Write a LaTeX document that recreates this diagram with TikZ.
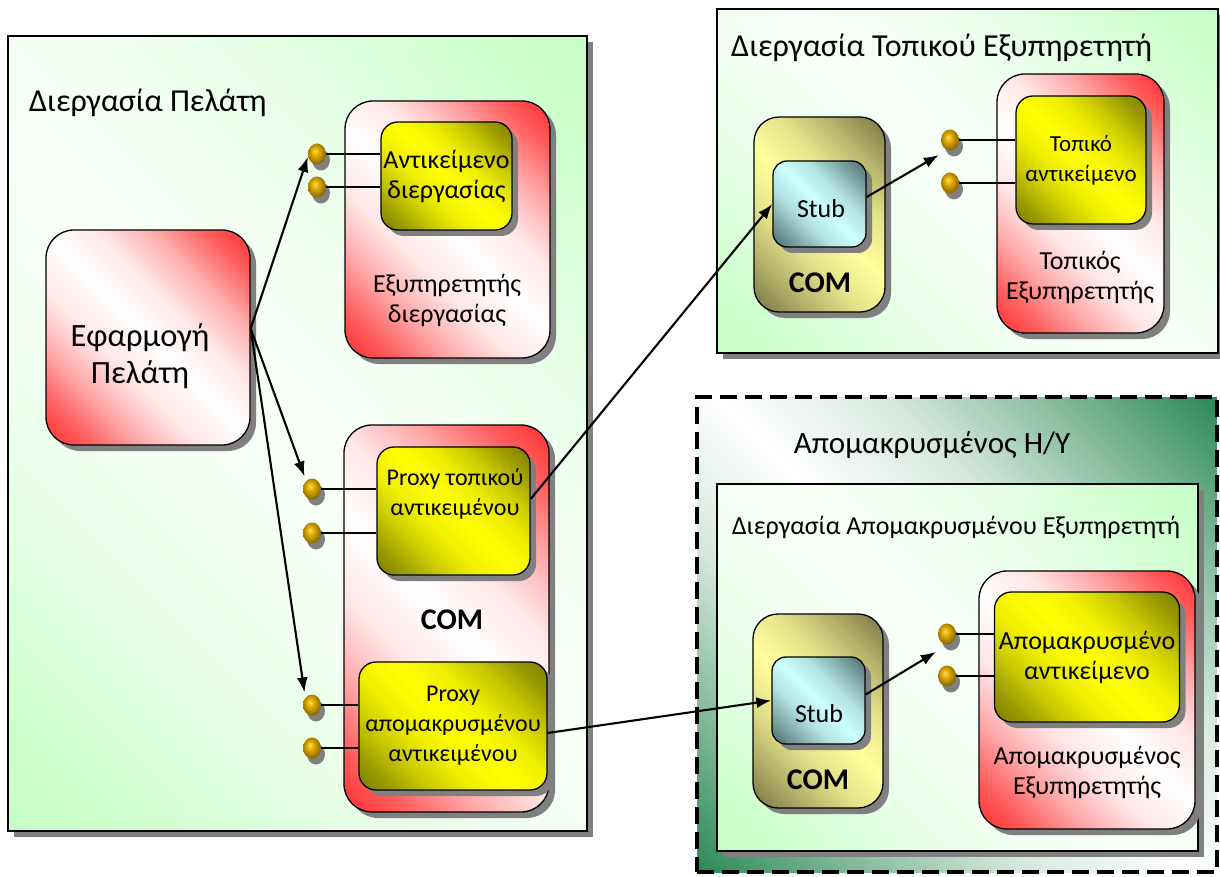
\documentclass[tikz,border=0pt]{standalone}
\usepackage{fontspec}
\setmainfont{Carlito}
\usetikzlibrary{shadows,shapes.geometric,arrows.meta,calc}

\definecolor{procgreen}{HTML}{C4FFC4}
\definecolor{procwhite}{HTML}{F8FFF8}
\definecolor{srvred}{HTML}{FF2A2A}
\definecolor{objolive}{HTML}{7A7A00}
\definecolor{objyellow}{HTML}{FFFF00}
\definecolor{compale}{HTML}{FFFF9C}
\definecolor{comdark}{HTML}{7A7545}
\definecolor{stublight}{HTML}{CCFFFF}
\definecolor{stubdark}{HTML}{4A6A6A}
\definecolor{hostgreen}{HTML}{2E8B57}
\definecolor{shadowgray}{HTML}{808080}
\definecolor{lollylight}{HTML}{FFDC50}
\definecolor{lollygold}{HTML}{DDA800}
\definecolor{lollydark}{HTML}{8A6800}

% diagonal band: corner colour in two opposite corners, middle colour on the centre line
\colorlet{diagA}{white}
\colorlet{diagB}{white}
\pgfdeclareverticalshading[diagA,diagB]{diagband}{100bp}{%
  color(0bp)=(diagA); color(14bp)=(diagA); color(22bp)=(diagA!76!diagB);
  color(31bp)=(diagA!40!diagB); color(40bp)=(diagA!12!diagB); color(50bp)=(diagB);
  color(60bp)=(diagA!12!diagB); color(69bp)=(diagA!40!diagB); color(78bp)=(diagA!76!diagB);
  color(86bp)=(diagA); color(100bp)=(diagA)}
% broader band for the small boxes
\pgfdeclareverticalshading[diagA,diagB]{diagwide}{100bp}{%
  color(0bp)=(diagA); color(15bp)=(diagA); color(26bp)=(diagA!60!diagB);
  color(38bp)=(diagA!20!diagB); color(50bp)=(diagB);
  color(62bp)=(diagA!20!diagB); color(74bp)=(diagA!60!diagB);
  color(85bp)=(diagA); color(100bp)=(diagA)}
\pgfdeclareradialshading{goldball}{\pgfpoint{-6bp}{7bp}}{%
  color(0bp)=(lollylight); color(11bp)=(lollygold); color(27bp)=(lollydark);
  color(50bp)=(lollydark)}

\newcommand{\fsTitle}{\fontsize{32pt}{37pt}\selectfont}
\newcommand{\fsHost}{\fontsize{31pt}{37pt}\selectfont}
\newcommand{\fsApp}{\fontsize{32.5pt}{37pt}\selectfont}
\newcommand{\fsSub}{\fontsize{26pt}{31pt}\selectfont}
\newcommand{\fsBody}{\fontsize{26pt}{30pt}\selectfont}
\newcommand{\fsProxy}{\fontsize{24pt}{30pt}\selectfont}
\newcommand{\fsSmall}{\fontsize{23pt}{30pt}\selectfont}
\newcommand{\fsCom}{\fontsize{30pt}{34pt}\selectfont\bfseries}

\tikzset{
  shadowed/.style={drop shadow={shadow xshift=6pt,shadow yshift=-6pt,fill=shadowgray,opacity=1}},
  diag/.style n args={2}{/utils/exec={\colorlet{diagA}{#1}\colorlet{diagB}{#2}},
    shade, shading=diagband, shading angle=-45},
  diagw/.style n args={2}{/utils/exec={\colorlet{diagA}{#1}\colorlet{diagB}{#2}},
    shade, shading=diagwide, shading angle=-45},
  procbox/.style={draw=black, line width=1.3pt, inner sep=0pt, diag={procgreen}{procwhite}, shadowed},
  redbox/.style={draw=black, line width=1.3pt, inner sep=0pt, rounded corners=28pt, diag={srvred}{white}, shadowed},
  objbox/.style={draw=black, line width=1.3pt, inner sep=0pt, rounded corners=17pt, diag={objolive}{objyellow}, shadowed, align=center},
  combox/.style={draw=black, line width=1.3pt, inner sep=0pt, rounded corners=25pt, diagw={comdark}{compale}, shadowed},
  stubbox/.style={draw=black, line width=1.3pt, inner sep=0pt, rounded corners=14pt, diagw={stubdark}{stublight}, shadowed},
  hostbox/.style={draw=black, line width=3.5pt, dash pattern=on 17pt off 8pt, inner sep=0pt, diagw={hostgreen}{white}},
  lbl/.style={inner sep=0pt, align=center, text=black},
  lolly/.style={ellipse, inner sep=0pt, minimum width=18pt, minimum height=21pt, shade, shading=goldball,
    drop shadow={shadow xshift=4pt,shadow yshift=-6pt,fill=shadowgray,opacity=1}},
  stem/.style={draw=black, line width=1.6pt},
  flow/.style={draw=black, line width=2.1pt, -{Latex[length=15pt,width=11pt]}},
}

\begin{document}
\begin{tikzpicture}[x=1pt,y=-1pt]
\useasboundingbox (0,0) rectangle (1220,877);

% ---------- client process ----------
\node[procbox, minimum width=579pt, minimum height=795pt] (cproc) at (297.5,433.5) {};
\node[lbl, font=\fsTitle, anchor=west] (cprocT) at (29,103) {Διεργασία Πελάτη};

\node[redbox, minimum width=204pt, minimum height=215pt] (app) at (148,337.5) {};
\node[lbl, font=\fsApp] (appT) at (140,356) {Εφαρμογή\\Πελάτη};

% in-process server
\node[redbox, minimum width=205pt, minimum height=257pt] (psrv) at (447.5,229.5) {};
\node[objbox, font=\fsBody, minimum width=131pt, minimum height=108pt] (pobj) at (446.5,176) {Αντικείμενο\\διεργασίας};
\node[lbl, font=\fsBody] (psrvT) at (447,300) {Εξυπηρετητής\\διεργασίας};

% client-side COM with proxies
\node[redbox, minimum width=205pt, minimum height=387pt] (lcom) at (446.5,618.5) {};
\node[objbox, minimum width=153pt, minimum height=128pt] (prx1) at (453.5,511) {};
\node[lbl, font=\fsProxy] (prx1T) at (455,494) {Proxy τοπικού\\αντικειμένου};
\node[lbl, font=\fsCom] (lcomT) at (452,620) {COM};
\node[objbox, font=\fsProxy, minimum width=188pt, minimum height=128pt] (prx2) at (453,726) {Proxy\\απομακρυσμένου\\αντικειμένου};

% ---------- local server process ----------
\node[procbox, minimum width=501pt, minimum height=344pt] (lproc) at (967.5,181) {};
\node[lbl, font=\fsTitle, anchor=west] (lprocT) at (731,48) {Διεργασία Τοπικού Εξυπηρετητή};

\node[combox, minimum width=131pt, minimum height=195pt] (rcom1) at (819.5,214.5) {};
\node[stubbox, minimum width=93pt, minimum height=86pt] (stub1) at (819.5,204) {};
\node[lbl, font=\fsSub] (stub1T) at (821,209) {Stub};
\node[lbl, font=\fsCom] (rcom1T) at (820,283) {COM};

\node[redbox, minimum width=167pt, minimum height=259pt] (lsrv) at (1080.5,203.5) {};
\node[objbox, font=\fsSmall, minimum width=130pt, minimum height=128pt] (lobj) at (1081,160) {Τοπικό\\αντικείμενο};
\node[lbl, font=\fsBody] (lsrvT) at (1080,277) {Τοπικός\\Εξυπηρετητής};

% ---------- remote host ----------
\node[hostbox, minimum width=520pt, minimum height=475pt] (rhost) at (957,634.5) {};
\node[lbl, font=\fsHost] (rhostT) at (932,445) {Απομακρυσμένος Η/Υ};

\node[procbox, minimum width=481pt, minimum height=367pt] (rproc) at (957.5,667.5) {};
\node[lbl, font=\fsSub] (rprocT) at (956,527) {Διεργασία Απομακρυσμένου Εξυπηρετητή};

\node[combox, minimum width=130pt, minimum height=194pt] (rcom2) at (818,711) {};
\node[stubbox, minimum width=93pt, minimum height=87pt] (stub2) at (818.5,700.5) {};
\node[lbl, font=\fsSub] (stub2T) at (819,714) {Stub};
\node[lbl, font=\fsCom] (rcom2T) at (818,780) {COM};

\node[redbox, minimum width=216pt, minimum height=258pt] (rsrv) at (1087,700) {};
\node[objbox, font=\fsBody, minimum width=185pt, minimum height=130pt] (robj) at (1087,657) {Απομακρυσμένο\\αντικείμενο};
\node[lbl, font=\fsBody] (rsrvT) at (1087,772) {Απομακρυσμένος\\Εξυπηρετητής};

% ---------- interface lollipops ----------
\node[lolly] (lpA1) at (317,154) {};
\node[lolly] (lpA2) at (317,187) {};
\node[lolly] (lpB1) at (312,489) {};
\node[lolly] (lpB2) at (312,533) {};
\node[lolly] (lpC1) at (312,705) {};
\node[lolly] (lpC2) at (312,748) {};
\node[lolly] (lpD1) at (950,140) {};
\node[lolly] (lpD2) at (950,183) {};
\node[lolly] (lpE1) at (947,634) {};
\node[lolly] (lpE2) at (947,676) {};

\draw[stem] (lpA1.east) -- (lpA1.east -| pobj.west);
\draw[stem] (lpA2.east) -- (lpA2.east -| pobj.west);
\draw[stem] (lpB1.east) -- (lpB1.east -| prx1.west);
\draw[stem] (lpB2.east) -- (lpB2.east -| prx1.west);
\draw[stem] (lpC1.east) -- (lpC1.east -| prx2.west);
\draw[stem] (lpC2.east) -- (lpC2.east -| prx2.west);
\draw[stem] (lpD1.east) -- (lpD1.east -| lobj.west);
\draw[stem] (lpD2.east) -- (lpD2.east -| lobj.west);
\draw[stem] (lpE1.east) -- (lpE1.east -| robj.west);
\draw[stem] (lpE2.east) -- (lpE2.east -| robj.west);

% ---------- calls ----------
\draw[flow] ([yshift=9pt]app.east) -- ($(lpA1.west)+(0,3)$);
\draw[flow] ([yshift=9pt]app.east) -- ($(lpB1.north west)+(-1,-5)$);
\draw[flow] ([yshift=9pt]app.east) -- ($(lpC1.north west)+(-1,-5)$);
\draw[flow] ([yshift=12pt]prx1.east) -- (stub1.west);
\draw[flow] ([yshift=-7pt]prx2.east) -- (stub2.west);
\draw[flow] ([yshift=7pt]stub1.east) -- ($(lpD1.west)+(-2,15)$);
\draw[flow] ([yshift=6pt]stub2.east) -- ($(lpE1.west)+(-2,18)$);
\end{tikzpicture}
\end{document}
